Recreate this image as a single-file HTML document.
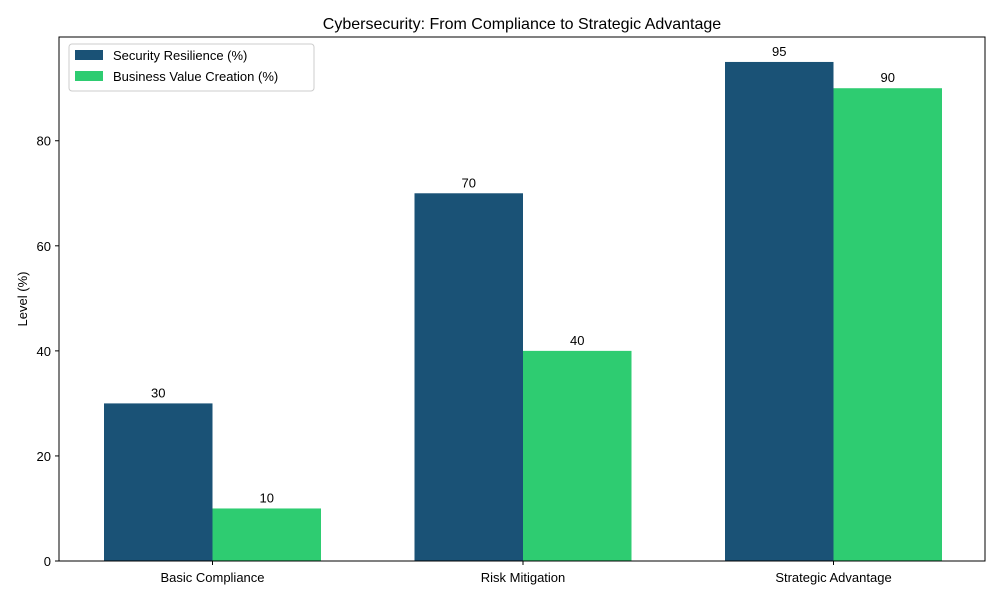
<!DOCTYPE html>
<html><head><meta charset="utf-8"><style>
body{margin:0;background:#fff;font-family:"Liberation Sans","DejaVu Sans",sans-serif;}
svg text{font-family:"Liberation Sans","DejaVu Sans",sans-serif;}
</style></head><body>
<svg id="chart" width="1000" height="600" xmlns="http://www.w3.org/2000/svg">
<rect width="1000" height="600" fill="#fff"/>
<text x="522" y="29" font-size="16" text-anchor="middle">Cybersecurity: From Compliance to Strategic Advantage</text>
<text transform="translate(27,299) rotate(-90)" font-size="13" text-anchor="middle">Level (%)</text>
<g id="marks"></g>
<g id="axes"></g>
<g>
<rect x="69" y="44" width="245" height="47" fill="#fff" stroke="#ccc" rx="3"/>
<rect x="75" y="50" width="28" height="10" fill="#1a5276"/>
<text x="113" y="60" font-size="13">Security Resilience (%)</text>
<rect x="75" y="71" width="28" height="10" fill="#2ecc71"/>
<text x="113" y="81" font-size="13">Business Value Creation (%)</text>
</g>
</svg>
<script>
const categories = ["Basic Compliance","Risk Mitigation","Strategic Advantage"];
const security = [30,70,95];
const business = [10,40,90];
const yTicks = [0,20,40,60,80];

const L=59,R=985,T=37,B=561,YMAX=99.75;
const y=v=>B-(v/YMAX)*(B-T);
const xc=i=>212.5+310.5*i;
const bw=108.5;
const NS="http://www.w3.org/2000/svg";
const marks=document.getElementById('marks'), axes=document.getElementById('axes');
function mk(tag,attrs,parent){const e=document.createElementNS(NS,tag);for(const k in attrs)e.setAttribute(k,attrs[k]);parent.appendChild(e);return e;}
function bar(i,v,off,color,name){
  const r=mk('rect',{x:xc(i)+off,y:y(v),width:bw,height:B-y(v),fill:color},marks);
  
  
  const t=mk('text',{x:xc(i)+off+bw/2,y:y(v)-6,'font-size':13,'text-anchor':'middle'},marks);
  t.textContent=v;
  
  
}
categories.forEach((c,i)=>{
  bar(i,security[i],-bw,'#1a5276','security');
  bar(i,business[i],0,'#2ecc71','business');
  mk('line',{x1:xc(i),x2:xc(i),y1:B,y2:B+4,stroke:'#000'},axes);
  const t=mk('text',{x:xc(i),y:B+21,'font-size':13,'text-anchor':'middle'},axes);
  t.textContent=c;
  
  
});
yTicks.forEach(v=>{
  mk('line',{x1:L-4,x2:L,y1:y(v),y2:y(v),stroke:'#000'},axes);
  const t=mk('text',{x:L-8,y:y(v)+5,'font-size':13,'text-anchor':'end'},axes);
  t.textContent=v;
  
  
});
const f=mk('rect',{x:L,y:T,width:R-L,height:B-T,fill:'none',stroke:'#000','stroke-width':1},axes);


</script>
</body></html>
